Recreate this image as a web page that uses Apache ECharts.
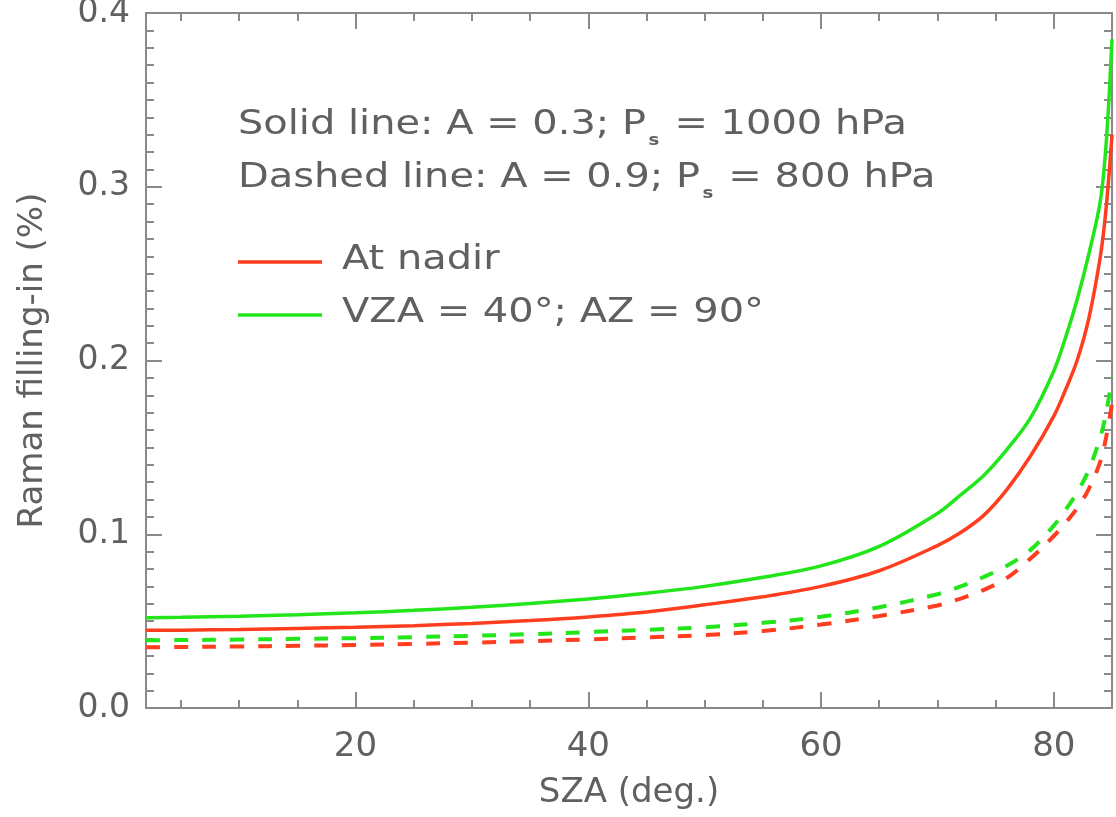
<!DOCTYPE html>
<html>
<head>
<meta charset="utf-8">
<script src="https://cdn.jsdelivr.net/npm/echarts@6/dist/echarts.min.js"></script>
<style>
  html, body { margin: 0; padding: 0; background: #fff; }
  #chart { width: 1116px; height: 817px; }
</style>
</head>
<body>
<div id="chart"></div>
<script>
// SZA (deg.) sample points
const sza = [2, 5, 10, 15, 20, 25, 30, 35, 40, 45, 50, 55, 60, 65, 70, 72, 74, 76, 78, 80, 81, 82, 83, 84, 84.5, 85];
// Raman filling-in (%)
const nadirSolid = [0.0447, 0.0448, 0.0452, 0.0458, 0.0465, 0.0474, 0.0487, 0.0503, 0.0524, 0.0552, 0.0594, 0.0640, 0.0700, 0.0790, 0.0935, 0.1010, 0.1110, 0.1260, 0.1450, 0.1680, 0.1830, 0.2000, 0.2240, 0.2600, 0.2880, 0.3300];
const vzaSolid = [0.0520, 0.0522, 0.0528, 0.0537, 0.0548, 0.0562, 0.0580, 0.0602, 0.0628, 0.0660, 0.0700, 0.0752, 0.0818, 0.0930, 0.1120, 0.1227, 0.1340, 0.1490, 0.1670, 0.1940, 0.2130, 0.2350, 0.2610, 0.2920, 0.3250, 0.3850];
const nadirDashed = [0.0350, 0.0351, 0.0354, 0.0358, 0.0363, 0.0369, 0.0376, 0.0385, 0.0395, 0.0407, 0.0420, 0.0443, 0.0480, 0.0530, 0.0590, 0.0630, 0.0680, 0.0750, 0.0860, 0.0990, 0.1065, 0.1150, 0.1260, 0.1420, 0.1560, 0.1750];
const vzaDashed = [0.0390, 0.0391, 0.0394, 0.0398, 0.0402, 0.0408, 0.0415, 0.0425, 0.0437, 0.0450, 0.0465, 0.0490, 0.0525, 0.0580, 0.0655, 0.0700, 0.0755, 0.0820, 0.0910, 0.1050, 0.1140, 0.1240, 0.1370, 0.1560, 0.1700, 0.1900];

const xMajorTicks = [20, 40, 60, 80];
const xMinorTicks = [5, 10, 15, 25, 30, 35, 45, 50, 55, 65, 70, 75, 85];

const RED = '#ff3d1f';
const GREEN = '#22e61a';
const AXIS = '#8a8a8a';
const TEXT = '#606060';
const FONT = 'DejaVu Sans';

const pairs = (ys) => sza.map((x, i) => [x, ys[i]]);

const chart = echarts.init(document.getElementById('chart'));

function xAxisOf(pos, ticks, len, withLine, withLabel) {
  return {
    type: 'value', position: pos, min: 2, max: 85,
    axisLine: { show: withLine, lineStyle: { color: AXIS, width: 2 } },
    axisTick: { show: true, inside: true, length: len, customValues: ticks, lineStyle: { color: AXIS, width: 2 } },
    axisLabel: withLabel ? { show: true, customValues: ticks, color: TEXT, fontSize: 34, fontFamily: FONT, margin: 22 } : { show: false },
    splitLine: { show: false },
    name: withLabel ? 'SZA (deg.)' : '',
    nameLocation: 'middle',
    nameGap: 68,
    nameTextStyle: { color: TEXT, fontSize: 34, fontFamily: FONT }
  };
}

function yAxisOf(pos, withLabel) {
  return {
    type: 'value', position: pos, min: 0, max: 0.4, interval: 0.1,
    axisLine: { show: true, lineStyle: { color: AXIS, width: 2 } },
    axisTick: { show: true, inside: true, length: 16, lineStyle: { color: AXIS, width: 2 } },
    minorTick: { show: true, splitNumber: 10, length: 8, lineStyle: { color: AXIS, width: 2 } },
    axisLabel: withLabel ? { show: true, color: TEXT, fontSize: 33, fontFamily: FONT, margin: 16, formatter: (v) => v.toFixed(1) } : { show: false },
    splitLine: { show: false },
    minorSplitLine: { show: false },
    name: withLabel ? 'Raman filling-in (%)' : '',
    nameLocation: 'middle',
    nameGap: 96,
    nameTextStyle: { color: TEXT, fontSize: 34, fontFamily: FONT }
  };
}

function lineSeries(ys, color, dashed) {
  return {
    type: 'line', xAxisIndex: 0, yAxisIndex: 0,
    data: pairs(ys),
    showSymbol: false, symbol: 'none',
    smooth: 0.35,
    color: color,
    lineStyle: { color: color, width: dashed ? 4 : 3.5, type: dashed ? [14, 14] : 'solid', cap: 'butt' },
    silent: true
  };
}

const txt = () => ({ fontSize: 33, fontFamily: FONT, fill: TEXT, lineHeight: 36, verticalAlign: 'top' });
const sub = { fontSize: 15, fontWeight: 'bold', fontFamily: FONT, fill: TEXT, lineHeight: 15, verticalAlign: 'top', padding: [25, 2, 0, 2] };

function noteText(x, y, str) {
  return {
    type: 'text', x: x, y: y, scaleX: 1.21,
    style: {
      text: str, fill: TEXT, font: '33px ' + FONT,
      rich: { n: txt(), s: sub }
    }
  };
}

const option = {
  animation: false,
  backgroundColor: '#fff',
  grid: { left: 146, right: 4, top: 13, bottom: 109, outerBoundsMode: 'none' },
  xAxis: [
    xAxisOf('bottom', xMajorTicks, 16, true, true),
    xAxisOf('bottom', xMinorTicks, 8, false, false),
    xAxisOf('top', xMajorTicks, 16, true, false),
    xAxisOf('top', xMinorTicks, 8, false, false)
  ],
  yAxis: [yAxisOf('left', true), yAxisOf('right', false)],
  series: [
    lineSeries(nadirSolid, RED, false),
    lineSeries(vzaSolid, GREEN, false),
    lineSeries(nadirDashed, RED, true),
    lineSeries(vzaDashed, GREEN, true)
  ],
  graphic: [
    noteText(238, 109, '{n|Solid line: A = 0.3; P}{s|s}{n| = 1000 hPa}'),
    noteText(238, 162, '{n|Dashed line: A = 0.9; P}{s|s}{n| = 800 hPa}'),
    { type: 'line', shape: { x1: 238, y1: 262, x2: 322, y2: 262 }, style: { stroke: RED, lineWidth: 3.5 } },
    { type: 'line', shape: { x1: 238, y1: 315, x2: 322, y2: 315 }, style: { stroke: GREEN, lineWidth: 3.5 } },
    noteText(342, 244, '{n|At nadir}'),
    noteText(342, 297, '{n|VZA = 40°; AZ = 90°}')
  ]
};

chart.setOption(option);
</script>
</body>
</html>
